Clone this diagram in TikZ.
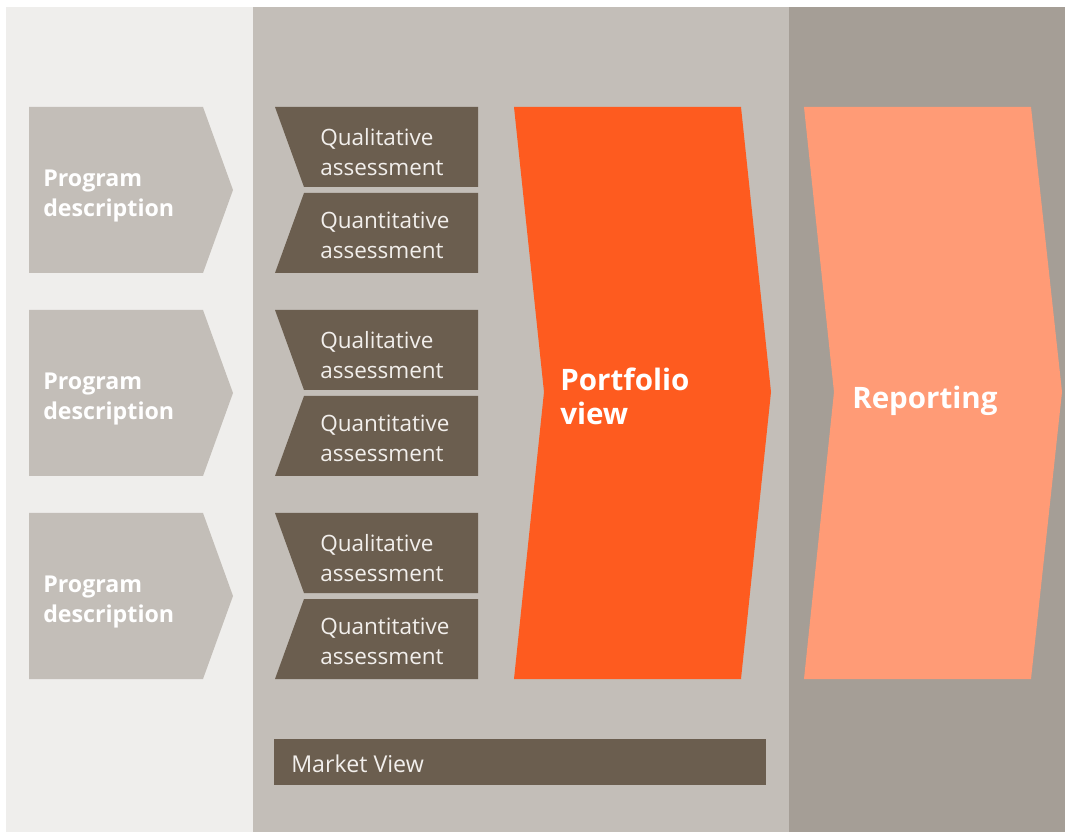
\documentclass[tikz,border=0pt]{standalone}
\usepackage{fontspec}
\setmainfont{Open Sans}
\usepackage{xcolor}
\definecolor{paneLight}{HTML}{EFEEEC}
\definecolor{paneMid}{HTML}{C3BEB8}
\definecolor{paneDark}{HTML}{A59E96}
\definecolor{boxBrown}{HTML}{6B5E4F}
\definecolor{portOrange}{HTML}{FE5B1F}
\definecolor{repSalmon}{HTML}{FF9B76}
\definecolor{boxText}{HTML}{F2EFEC}

\begin{document}
\begin{tikzpicture}[x=0.025cm,y=-0.025cm]
\useasboundingbox (0,0) rectangle (1065,832);

% background panels
\fill[paneLight] (6,7) rectangle (253,832);
\fill[paneMid] (253,7) rectangle (789,832);
\fill[paneDark] (789,7) rectangle (1065,832);

% three rows: program chevron + two assessment boxes
\foreach \t [count=\i] in {107,310,513} {
    \fill[paneMid] (29,\t) -- (203,\t) -- (233,\t+83) -- (203,\t+166) -- (29,\t+166) -- cycle;
    \fill[boxBrown] (275,\t) -- (478,\t) -- (478,\t+80) -- (304,\t+80) -- cycle;
    \fill[boxBrown] (304,\t+86) -- (478,\t+86) -- (478,\t+166) -- (275,\t+166) -- cycle;
}

% portfolio and reporting chevrons
\fill[portOrange] (514,107) -- (741,107) -- (771,392) -- (741,679) -- (514,679) -- (544,392) -- cycle;
\fill[repSalmon] (804,107) -- (1031,107) -- (1062,392) -- (1031,679) -- (804,679) -- (834,392) -- cycle;

% market view bar
\fill[boxBrown] (274,739) rectangle (766,785);

\begin{scope}[every node/.style={anchor=west,inner sep=0pt,align=left}]
    \foreach \t [count=\i] in {107,310,513} {
        \node[text=white,font=\fontsize{16.5}{22}\selectfont\bfseries] (prog\i) at (43,\t+89) {Program\\description};
        \node[text=boxText,font=\fontsize{16}{21.5}\selectfont] (qual\i) at (320,\t+45) {Qualitative\\assessment};
        \node[text=boxText,font=\fontsize{16}{21.5}\selectfont] (quant\i) at (320,\t+128) {Quantitative\\assessment};
    }
    \node[text=white,font=\fontsize{21}{24}\selectfont\bfseries] (portfolio) at (560,396) {Portfolio\\view};
    \node[text=white,font=\fontsize{21}{24}\selectfont\bfseries] (reporting) at (852,401) {Reporting};
    \node[text=boxText,font=\fontsize{16.5}{20}\selectfont] (market) at (291,764) {Market View};
\end{scope}

\end{tikzpicture}
\end{document}
